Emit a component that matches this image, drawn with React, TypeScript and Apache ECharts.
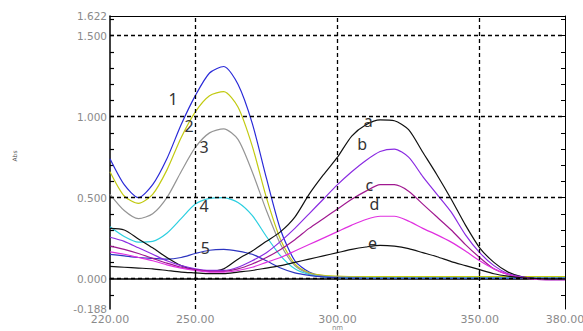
import React, { useEffect, useRef } from "react";
import * as echarts from "echarts";

const wavelengths = [220, 225, 230, 235, 240, 245, 250, 255, 260, 265, 270, 275, 280, 285, 290, 295, 300, 305, 310, 315, 320, 325, 330, 335, 340, 345, 350, 355, 360, 365, 370, 375, 380];

const curve1 = [0.74, 0.58, 0.50, 0.58, 0.74, 0.95, 1.13, 1.27, 1.31, 1.20, 0.96, 0.62, 0.30, 0.11, 0.04, 0.015, 0.01, 0.008, 0.006, 0.005, 0.005, 0.004, 0.004, 0.004, 0.004, 0.003, 0.003, 0.003, 0.003, 0.003, 0.003, 0.003, 0.003];
const curve2 = [0.66, 0.51, 0.465, 0.52, 0.67, 0.87, 1.03, 1.13, 1.155, 1.06, 0.82, 0.50, 0.24, 0.09, 0.035, 0.02, 0.015, 0.012, 0.012, 0.012, 0.012, 0.012, 0.012, 0.012, 0.012, 0.012, 0.012, 0.012, 0.012, 0.012, 0.012, 0.012, 0.012];
const curve3 = [0.52, 0.42, 0.37, 0.40, 0.50, 0.66, 0.81, 0.90, 0.925, 0.86, 0.66, 0.42, 0.21, 0.08, 0.03, 0.015, 0.01, 0.008, 0.006, 0.005, 0.005, 0.005, 0.005, 0.005, 0.005, 0.005, 0.005, 0.005, 0.005, 0.005, 0.005, 0.005, 0.005];
const curve4 = [0.32, 0.26, 0.225, 0.23, 0.28, 0.37, 0.46, 0.495, 0.50, 0.47, 0.39, 0.26, 0.14, 0.06, 0.025, 0.01, 0.006, 0.004, 0.003, 0.003, 0.003, 0.003, 0.003, 0.003, 0.003, 0.003, 0.003, 0.003, 0.003, 0.003, 0.003, 0.003, 0.003];
const curve5 = [0.15, 0.14, 0.13, 0.125, 0.12, 0.13, 0.155, 0.175, 0.18, 0.17, 0.15, 0.11, 0.065, 0.035, 0.02, 0.01, 0.005, 0.003, 0.002, 0.002, 0.002, 0.002, 0.002, 0.002, 0.002, 0.002, 0.002, 0.002, 0.002, 0.002, 0.002, 0.002, 0.002];
const curveA = [0.31, 0.30, 0.245, 0.19, 0.13, 0.08, 0.055, 0.045, 0.06, 0.12, 0.17, 0.23, 0.29, 0.38, 0.52, 0.64, 0.75, 0.88, 0.95, 0.98, 0.975, 0.92, 0.78, 0.64, 0.49, 0.33, 0.19, 0.10, 0.04, 0.01, 0.0, -0.004, -0.004];
const curveB = [0.255, 0.23, 0.19, 0.15, 0.11, 0.08, 0.06, 0.05, 0.05, 0.07, 0.11, 0.16, 0.23, 0.31, 0.40, 0.49, 0.58, 0.66, 0.73, 0.785, 0.80, 0.75, 0.63, 0.52, 0.41, 0.27, 0.16, 0.08, 0.03, 0.01, -0.004, -0.006, -0.006];
const curveC = [0.20, 0.18, 0.155, 0.125, 0.095, 0.07, 0.055, 0.045, 0.045, 0.06, 0.09, 0.13, 0.18, 0.24, 0.31, 0.37, 0.43, 0.49, 0.54, 0.58, 0.58, 0.54, 0.46, 0.38, 0.30, 0.21, 0.13, 0.06, 0.025, 0.005, -0.005, -0.006, -0.006];
const curveD = [0.165, 0.15, 0.13, 0.11, 0.085, 0.065, 0.05, 0.04, 0.04, 0.05, 0.07, 0.10, 0.13, 0.17, 0.21, 0.25, 0.29, 0.33, 0.365, 0.385, 0.385, 0.355, 0.31, 0.27, 0.225, 0.17, 0.11, 0.06, 0.025, 0.005, -0.005, -0.006, -0.006];
const curveE = [0.075, 0.07, 0.065, 0.06, 0.05, 0.04, 0.035, 0.03, 0.03, 0.04, 0.05, 0.065, 0.08, 0.10, 0.12, 0.14, 0.16, 0.18, 0.195, 0.205, 0.20, 0.185, 0.16, 0.135, 0.105, 0.08, 0.055, 0.03, 0.015, 0.005, 0.0, -0.003, -0.003];

const curveNames = ["1", "2", "3", "4", "5", "a", "b", "c", "d", "e"];
const curveValues = [curve1, curve2, curve3, curve4, curve5, curveA, curveB, curveC, curveD, curveE];
const curveColors = ["#2a2ad8", "#c2ca12", "#959595", "#2ccfe0", "#2c34c0", "#111111", "#8a2be2", "#a01890", "#e030e0", "#111111"];

const labelNm = [242.2, 247.8, 253.1, 253.1, 253.5, 310.8, 308.7, 311.2, 313.0, 312.3];
const labelAbs = [1.11, 0.94, 0.81, 0.45, 0.19, 0.975, 0.83, 0.58, 0.46, 0.217];

const xLabelValues = [220, 250, 300, 350, 380];
const xTickValues = [250, 300, 350];
const yLabelValues = [-0.188, 0, 0.5, 1.0, 1.5, 1.622];
const yTickValues = [-0.1, 0, 0.1, 0.2, 0.3, 0.4, 0.5, 0.6, 0.7, 0.8, 0.9, 1.0, 1.1, 1.2, 1.3, 1.4, 1.5, 1.6];
const gridX = [250, 300, 350];
const gridY = [0, 0.5, 1.0, 1.5];

export default function App() {
  const ref = useRef<HTMLDivElement>(null);
  useEffect(() => {
    if (!ref.current) return;
    const chart = echarts.init(ref.current, null, { renderer: "svg" });
    const series: any[] = [
      {
        type: "line",
        data: [],
        silent: true,
        z: 1,
        markLine: {
          silent: true,
          symbol: "none",
          label: { show: false },
          lineStyle: { color: "#000", type: [4, 3], width: 1.3 },
          data: [
            ...gridX.map((v) => ({ xAxis: v })),
            ...gridY.map((v) => ({ yAxis: v })),
          ],
        },
      },
    ];
    curveValues.forEach((vals, k) => {
      series.push({
        type: "line",
        name: curveNames[k],
        data: wavelengths.map((w, i) => [w, vals[i]]),
        showSymbol: false,
        smooth: 0.25,
        z: 3,
        lineStyle: { color: curveColors[k], width: 1.2 },
      });
    });
    chart.setOption({
      animation: false,
      grid: { left: 110, right: 18, top: 16, bottom: 22, outerBoundsMode: "none", containLabel: false },
      xAxis: [
        {
          type: "value",
          min: 220,
          max: 380,
          axisLine: { show: true, lineStyle: { color: "#000", width: 1.5 } },
          axisTick: { show: true, inside: true, length: 7, customValues: xTickValues, lineStyle: { color: "#000", width: 1.3 } },
          axisLabel: { color: "#8a8a8a", fontFamily: "DejaVu Sans", fontSize: 11, lineHeight: 10, margin: 5, customValues: xLabelValues, formatter: (v: number) => v.toFixed(2) },
          splitLine: { show: false },
        },
        {
          type: "value",
          position: "top",
          min: 220,
          max: 380,
          axisLine: { show: true, onZero: false, lineStyle: { color: "#000", width: 1 } },
          axisTick: { show: false },
          axisLabel: { show: false },
          splitLine: { show: false },
        },
      ],
      yAxis: [
        {
          type: "value",
          min: -0.188,
          max: 1.622,
          axisLine: { show: true, onZero: false, lineStyle: { color: "#000", width: 1.5 } },
          axisTick: { show: true, inside: true, length: 4, customValues: yTickValues, lineStyle: { color: "#000", width: 1.2 } },
          axisLabel: { color: "#8a8a8a", fontFamily: "DejaVu Sans", fontSize: 10.5, lineHeight: 8, margin: 3, customValues: yLabelValues, formatter: (v: number) => v.toFixed(3) },
          splitLine: { show: false },
        },
        {
          type: "value",
          position: "right",
          min: -0.188,
          max: 1.622,
          axisLine: { show: true, onZero: false, lineStyle: { color: "#000", width: 1 } },
          axisTick: { show: true, inside: true, length: 4, customValues: yTickValues, lineStyle: { color: "#000", width: 1 } },
          axisLabel: { show: false },
          splitLine: { show: false },
        },
      ],
      series,
    });
    const texts: any[] = curveNames.map((name, k) => {
      const p = chart.convertToPixel({ gridIndex: 0 }, [labelNm[k], labelAbs[k]]) as number[];
      return {
        type: "text",
        x: p[0],
        y: p[1],
        z: 10,
        style: {
          text: name,
          fill: "#333",
          font: "16px 'Noto Sans'",
          align: "center",
          verticalAlign: "middle",
        },
      };
    });
    const nmPos = chart.convertToPixel({ gridIndex: 0 }, [300, -0.188]) as number[];
    texts.push({
      type: "text",
      x: nmPos[0],
      y: 325,
      style: { text: "nm", fill: "#8a8a8a", font: "7px 'DejaVu Sans'", lineHeight: 6, align: "center", verticalAlign: "top" },
    });
    texts.push({
      type: "text",
      x: 14,
      y: 156,
      rotation: Math.PI / 2,
      style: { text: "Abs", fill: "#555", font: "6px 'DejaVu Sans'", align: "center", verticalAlign: "middle" },
    });
    chart.setOption({ graphic: texts });
    return () => chart.dispose();
  }, []);
  return <div ref={ref} style={{ position: "absolute", left: 0, top: 0, width: 583, height: 331 }} />;
}
